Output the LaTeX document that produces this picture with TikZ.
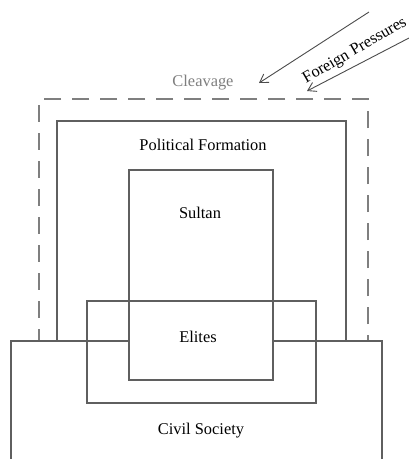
\documentclass[tikz,border=0pt]{standalone}
\usepackage{fontspec}
\setmainfont{Liberation Serif}
\usetikzlibrary{arrows.meta}
\definecolor{lineg}{HTML}{5F5F5F}
\definecolor{dashg}{HTML}{7F7F7F}
\tikzset{
  box/.style={draw=lineg, line width=2.4pt, rectangle, anchor=north west, inner sep=0pt},
  cleavbox/.style={box, draw=dashg, line width=2.2pt, dash pattern=on 17pt off 11pt},
  lbl/.style={font=\fontsize{16.4}{18}\selectfont, text=black, inner sep=0pt},
  parrow/.style={draw=black!70, line width=0.9pt, -{Straight Barb[length=8pt,width=10pt]}}
}
\begin{document}
\begin{tikzpicture}[x=1pt,y=-1pt]
\clip (0,0) rectangle (409,459);
\fill[white] (0,0) rectangle (409,459);
% Cleavage (dashed)
\node[cleavbox, minimum width=329pt, minimum height=260pt] (cleav) at (38,98) {};
% Political Formation
\node[box, minimum width=289pt, minimum height=240pt] (pol) at (56,120) {};
% Civil Society
\node[box, fill=white, minimum width=371pt, minimum height=125pt] (civ) at (10,340) {};
% Sultan
\node[box, fill=white, minimum width=144pt, minimum height=210pt] (sul) at (128,169) {};
% Elites
\node[box, minimum width=229pt, minimum height=102pt] (eli) at (86,300) {};
% Labels
\node[lbl, text=dashg] (tcleav) at (203,83) {Cleavage};
\node[lbl] (tpol) at (203,145) {Political Formation};
\node[lbl] (tsul) at (200,213) {Sultan};
\node[lbl] (teli) at (198,337) {Elites};
\node[lbl] (tciv) at (201,431) {Civil Society};
\node[lbl, rotate=30] (tfor) at (355,51) {Foreign Pressures};
% Arrows
\coordinate (a1s) at (369,12);
\coordinate (a1e) at (259,83);
\coordinate (a2s) at (409,38);
\coordinate (a2e) at (307,91);
\draw[parrow] (a1s) -- (a1e);
\draw[parrow] (a2s) -- (a2e);
\end{tikzpicture}
\end{document}
